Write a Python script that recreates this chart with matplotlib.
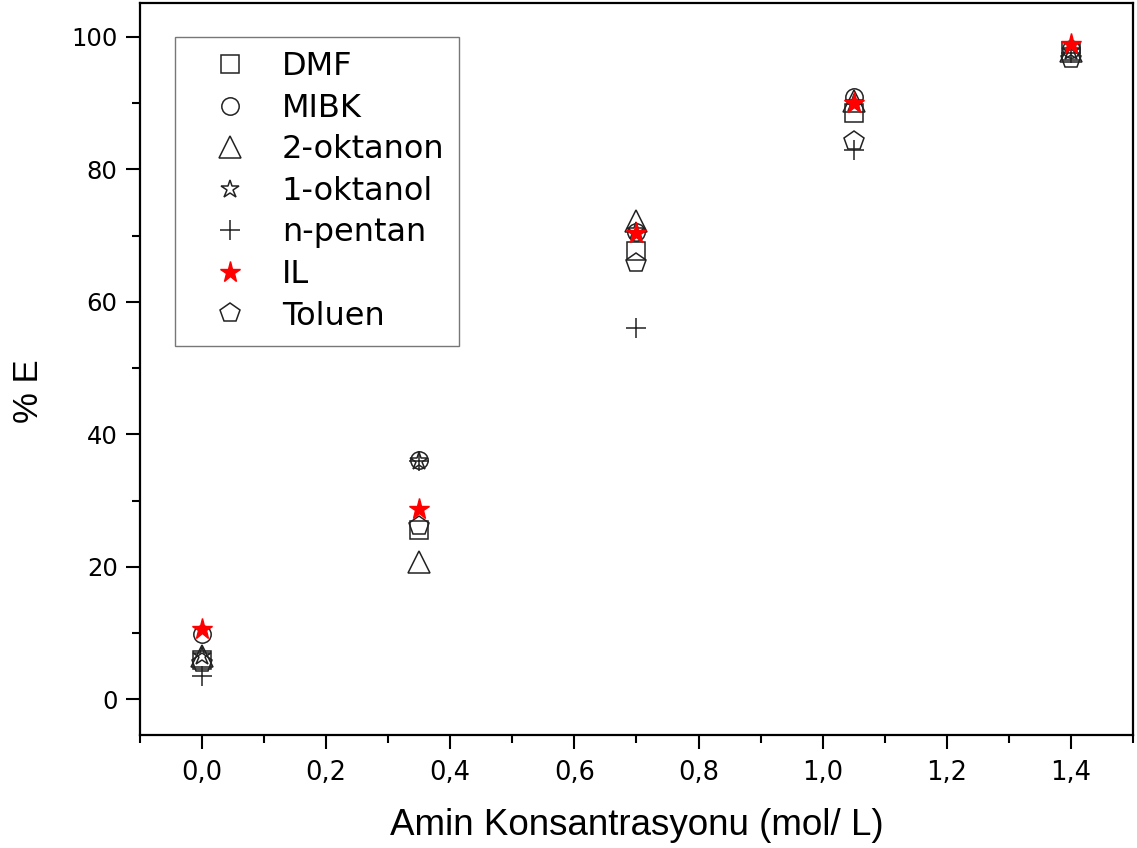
import matplotlib
matplotlib.use("Agg")
import matplotlib.pyplot as plt
from matplotlib.ticker import MultipleLocator, FuncFormatter

plt.rcParams['font.family'] = ['DejaVu Sans']

conc = [0.0, 0.35, 0.70, 1.05, 1.40]
dmf = [6.0, 25.5, 67.7, 88.5, 97.8]
mibk = [9.8, 36.1, 70.5, 90.9, 98.2]
oktanon = [6.6, 20.8, 72.2, 90.3, 97.9]
oktanol = [6.6, 36.0, 70.7, 90.0, 97.9]
pentan = [3.5, 36.0, 56.0, 82.9, 97.5]
il = [10.7, 28.7, 70.4, 90.0, 98.9]
toluen = [5.5, 26.1, 65.9, 84.3, 96.7]

labels = ['DMF', 'MIBK', '2-oktanon', '1-oktanol', 'n-pentan', 'IL', 'Toluen']
series = [dmf, mibk, oktanon, oktanol, pentan, il, toluen]
markers = ['s', 'o', '^', '*', '+', '*', 'p']
sizes = [13, 12.5, 16, 13.5, 14, 15.5, 15]

fig = plt.figure(figsize=(11.37, 8.48), dpi=100)
ax = fig.add_axes([0.123, 0.133, 0.8735, 0.8635])

edge = '#222222'
for lab, ys, m, ms in zip(labels, series, markers, sizes):
    if lab == 'IL':
        ax.plot(conc, ys, linestyle='none', marker=m, markersize=ms,
                color='red', markeredgecolor='red', label=lab, zorder=5)
    elif m == '+':
        ax.plot(conc, ys, linestyle='none', marker=m, markersize=ms,
                color=edge, markeredgewidth=1.1, label=lab, zorder=3)
    else:
        ax.plot(conc, ys, linestyle='none', marker=m, markersize=ms,
                markerfacecolor='none', markeredgecolor=edge,
                markeredgewidth=1.1, label=lab, zorder=3)

ax.set_xlim(-0.1, 1.5)
ax.set_ylim(-5.4, 105.1)
ax.xaxis.set_major_locator(MultipleLocator(0.2))
ax.xaxis.set_minor_locator(MultipleLocator(0.1))
ax.yaxis.set_major_locator(MultipleLocator(20))
ax.yaxis.set_minor_locator(MultipleLocator(10))
ax.xaxis.set_major_formatter(FuncFormatter(lambda v, p: f"{v:.1f}".replace('.', ',')))
ax.yaxis.set_major_formatter(FuncFormatter(lambda v, p: f"{v:.0f}"))
ax.tick_params(axis='both', which='major', direction='out', length=10, width=1.5,
               top=False, right=False)
ax.tick_params(axis='both', which='minor', direction='out', length=5.5, width=1.5,
               top=False, right=False)
ax.tick_params(axis='x', which='major', labelsize=18.5, pad=8)
ax.tick_params(axis='y', which='major', labelsize=17.5, pad=6)
for s in ax.spines.values():
    s.set_linewidth(1.6)

ax.set_xlabel('Amin Konsantrasyonu (mol/ L)', fontsize=26.5,
              family=['Liberation Sans', 'DejaVu Sans'])
ax.xaxis.set_label_coords(0.5, -0.1366)
ax.xaxis.label.set_va('baseline')
ax.set_ylabel('% E', fontsize=25, family=['Liberation Sans', 'DejaVu Sans'])
ax.yaxis.set_label_coords(-0.112, 0.47)
ax.yaxis.label.set_va('center')

leg = ax.legend(loc='upper left', bbox_to_anchor=(0.0352, 0.9536), fontsize=23,
                frameon=True, fancybox=False, edgecolor='#555555',
                borderpad=0.45, labelspacing=0.33, handletextpad=0.34,
                handlelength=2.56, borderaxespad=0)
leg.get_frame().set_linewidth(1.0)

fig.savefig('out.png', dpi=100)
